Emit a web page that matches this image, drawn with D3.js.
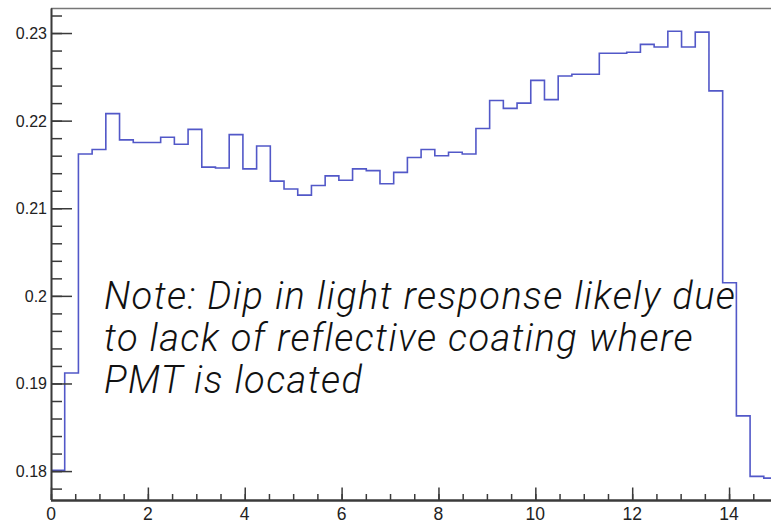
<!DOCTYPE html>
<html>
<head>
<meta charset="utf-8">
<script src="https://cdn.jsdelivr.net/npm/d3@7"></script>
<style>
	body { margin: 0; background: #fff; }
	svg { display: block; }
</style>
</head>
<body>
<div id="content"></div>
<script>
// histogram: 53 equal bins between 0 and 15
var xMin = 0;
var xMax = 15;
var binValues = [
	0.1801, 0.1912, 0.2162, 0.2167, 0.2208, 0.2178, 0.2175, 0.2175, 0.2181, 0.2173,
	0.2190, 0.2147, 0.2146, 0.2184, 0.2145, 0.2171, 0.2131, 0.2122, 0.2115, 0.2126,
	0.2137, 0.2132, 0.2145, 0.2143, 0.2128, 0.2141, 0.2158, 0.2167, 0.2160, 0.2164,
	0.2162, 0.2191, 0.2223, 0.2214, 0.2220, 0.2246, 0.2224, 0.2251, 0.2253, 0.2253,
	0.2277, 0.2277, 0.2278, 0.2287, 0.2284, 0.2302, 0.2284, 0.2301, 0.2234, 0.2015,
	0.1863, 0.1794, 0.1792
];
var xTicks = [0, 2, 4, 6, 8, 10, 12, 14];
var yTicks = [0.18, 0.19, 0.2, 0.21, 0.22, 0.23];
var yTickLabels = ['0.18', '0.19', '0.2', '0.21', '0.22', '0.23'];
var yDomain = [0.1767, 0.2328];
var noteLines = [
	'Note: Dip in light response likely due',
	'to lack of reflective coating where',
	'PMT is located'
];

var W = 771, H = 524;
var padL = 51, padT = 8.5, padB = 500, padR = 777.5;
var axisCol = '#3a3a3a';

var svg = d3.select('#content').append('svg').attr('width', W).attr('height', H);

var x = d3.scaleLinear().domain([xMin, xMax]).range([padL, padR]);
var y = d3.scaleLinear().domain(yDomain).range([padB, padT]);

// frame top line
svg.append('line')
	.attr('x1', padL).attr('x2', W).attr('y1', padT).attr('y2', padT)
	.attr('stroke', '#777').attr('stroke-width', 1.5);

// histogram
var binW = (xMax - xMin) / binValues.length;
var pts = binValues.map((v, i) => [xMin + i * binW, v]);
pts.push([xMax, binValues[binValues.length - 1]]);
svg.append('path')
	.attr('d', d3.line().x(d => x(d[0])).y(d => y(d[1])).curve(d3.curveStepAfter)(pts))
	.attr('fill', 'none')
	.attr('stroke', '#5258c8')
	.attr('stroke-width', 1.6);

// y axis
var yMinor = d3.range(0.176, 0.2329, 0.002).filter(v => v >= yDomain[0] && v <= yDomain[1]);
var yAxis = svg.append('g').attr('transform', 'translate(' + padL + ',0)');
yAxis.call(d3.axisRight(y).tickValues(yMinor).tickSize(11).tickFormat(''));
yAxis.append('g').call(d3.axisRight(y).tickValues(yTicks).tickSize(21).tickFormat(''));
yAxis.selectAll('path').attr('d', 'M0.5,' + padT + 'V' + padB).attr('stroke', axisCol).attr('stroke-width', 1.6);
yAxis.selectAll('line').attr('stroke', axisCol).attr('stroke-width', 1.5);
svg.append('g').selectAll('text').data(yTicks).enter().append('text')
	.attr('x', padL - 4)
	.attr('y', d => y(d) + 6)
	.attr('text-anchor', 'end')
	.attr('font-family', 'Liberation Sans, Arial, sans-serif')
	.attr('font-size', 16)
	.attr('fill', '#222')
	.text((d, i) => yTickLabels[i]);

// x axis
var xMinor = d3.range(0, 15.01, 0.5);
var xAxis = svg.append('g').attr('transform', 'translate(0,' + padB + ')');
xAxis.call(d3.axisTop(x).tickValues(xMinor).tickSize(6).tickFormat(''));
xAxis.append('g').call(d3.axisTop(x).tickValues(xTicks).tickSize(12.5).tickFormat(''));
xAxis.selectAll('path').attr('d', 'M' + padL + ',0.5H' + W).attr('stroke', axisCol).attr('stroke-width', 1.8);
xAxis.selectAll('line').attr('stroke', axisCol).attr('stroke-width', 1.5);
svg.append('g').selectAll('text').data(xTicks).enter().append('text')
	.attr('x', d => x(d))
	.attr('y', padB + 20)
	.attr('text-anchor', 'middle')
	.attr('font-family', 'Liberation Sans, Arial, sans-serif')
	.attr('font-size', 17.5)
	.attr('fill', '#222')
	.text(d => d);

// note
svg.append('g').selectAll('text').data(noteLines).enter().append('text')
	.attr('x', 104)
	.attr('y', (d, i) => 309 + i * 42)
	.attr('font-family', 'Roboto, Lato, sans-serif')
	.attr('font-weight', 300)
	.attr('font-style', 'italic')
	.attr('font-size', 38)
	.attr('letter-spacing', 1.4)
	.attr('fill', '#111')
	.text(d => d);
</script>
</body>
</html>
